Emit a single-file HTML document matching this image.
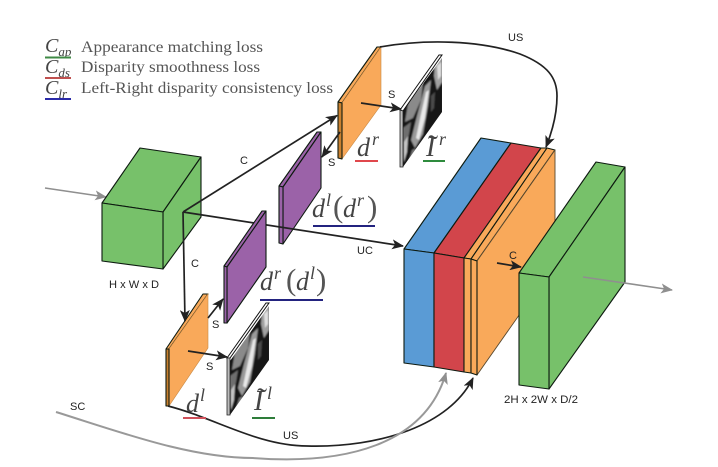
<!DOCTYPE html>
<html>
<head>
<meta charset="utf-8">
<style>
html,body{margin:0;padding:0;background:#fff;width:718px;height:467px;overflow:hidden}
svg{display:block}
.l{font-family:"Liberation Sans",sans-serif;font-size:11px;fill:#222}
.t{font-family:"Liberation Serif",serif;font-size:16px;fill:#555}
.m{font-family:"Liberation Serif",serif;font-style:italic;fill:#444}
.p{font-family:"Liberation Serif",serif;fill:#555;font-size:31px}
.f{stroke:#0d1a10;stroke-width:1.1;stroke-linejoin:round}
</style>
</head>
<body>
<svg width="718" height="467" viewBox="0 0 718 467" xmlns="http://www.w3.org/2000/svg">
<defs>
<marker id="k" markerWidth="13" markerHeight="10" refX="11" refY="5" orient="auto" markerUnits="userSpaceOnUse"><path d="M0 0L12 5L0 10L3 5Z" fill="#222"/></marker>
<marker id="g" markerWidth="13" markerHeight="10" refX="11" refY="5" orient="auto" markerUnits="userSpaceOnUse"><path d="M0 0L12 5L0 10L3 5Z" fill="#8f8f8f"/></marker>
<clipPath id="cr"><polygon points="403,111 442,58 442,112 403,167"/></clipPath>
<clipPath id="cl"><polygon points="230,361 269,306 269,360 230,415"/></clipPath>
<filter id="b" x="-10%" y="-10%" width="120%" height="120%"><feGaussianBlur stdDeviation="0.9"/></filter>
<g id="photo" filter="url(#b)">
<rect x="0" y="0" width="42" height="112" fill="#191919"/>
<polygon points="8,42 22,26 20,44 12,62 4,66" fill="#8a8a8a"/>
<polygon points="24,30 30,24 27,50 22,78 14,92 10,84 16,60" fill="#9a9a9a"/>
<polygon points="25,36 28,34 24,62 18,84 15,82 20,58" fill="#e8e8e8"/>
<polygon points="34,6 41,0 41,26 36,34 33,20" fill="#a0a0a0"/>
<polygon points="36,10 40,6 40,20 37,24" fill="#e0e0e0"/>
<polygon points="2,72 10,66 8,78 3,96 2,108" fill="#6e6e6e"/>
<polygon points="3,86 7,80 6,96 3,106" fill="#c4c4c4"/>
<polygon points="11,94 15,92 10,106 7,108" fill="#777"/>
<polygon points="30,40 34,36 33,52 30,56" fill="#4c4c4c"/>
</g>
</defs>

<!-- legend -->
<text class="m" x="45" y="52" font-size="20">C<tspan font-size="13" dy="4">ap</tspan></text>
<text class="m" x="45" y="73" font-size="20">C<tspan font-size="13" dy="4">ds</tspan></text>
<text class="m" x="45" y="94" font-size="20">C<tspan font-size="13" dy="4">lr</tspan></text>
<line x1="45" y1="57.5" x2="71" y2="57.5" stroke="#3f8a45" stroke-width="2"/>
<line x1="45" y1="78" x2="71" y2="78" stroke="#c0504f" stroke-width="2"/>
<line x1="45" y1="99" x2="71" y2="99" stroke="#2a2aa8" stroke-width="2"/>
<text class="t" x="81" y="52" textLength="182" lengthAdjust="spacingAndGlyphs">Appearance matching loss</text>
<text class="t" x="81" y="72" textLength="179" lengthAdjust="spacingAndGlyphs">Disparity smoothness loss</text>
<text class="t" x="81" y="93" textLength="252" lengthAdjust="spacingAndGlyphs">Left-Right disparity consistency loss</text>

<!-- input arrow -->
<line x1="45" y1="188" x2="106" y2="197" stroke="#8f8f8f" stroke-width="1.6" marker-end="url(#g)"/>

<!-- green cube -->
<polygon class="f" points="102,203 140,148 201,157 163,212" fill="#77c16a"/>
<polygon class="f" points="163,212 201,157 201,217 163,269" fill="#77c16a"/>
<polygon class="f" points="102,203 163,212 163,269 102,261" fill="#77c16a"/>

<!-- purple upper -->
<polygon class="f" points="279,186 317,132 321,132 283,187" fill="#9b62a8"/>
<polygon class="f" points="283,187 321,132 321,188 283,244" fill="#9b62a8"/>
<polygon class="f" points="279,186 283,187 283,244 279,243" fill="#9b62a8"/>

<!-- big stack -->
<polygon class="f" points="404,249 481,138 511,143 434,253" fill="#5a9bd5"/>
<polygon class="f" points="434,253 511,143 541,148 464,258" fill="#d2454b"/>
<polygon class="f" points="464,258 541,148 547,148 471,259" fill="#f9a95a"/>
<polygon class="f" points="471,259 547,148 555,150 477,261" fill="#f9a95a"/>
<polygon class="f" points="477,261 555,150 555,264 477,375" fill="#f9a95a" style="stroke:#5a4a30;stroke-width:.9"/>
<polygon class="f" points="404,249 434,253 434,367 404,363" fill="#5a9bd5"/>
<polygon class="f" points="434,253 464,258 464,372 434,367" fill="#d2454b"/>
<polygon class="f" points="464,258 471,259 471,373 464,372" fill="#f9a95a"/>
<polygon class="f" points="471,259 477,261 477,375 471,373" fill="#f9a95a"/>

<!-- connectors behind planes -->
<path d="M183 212L337 115.500" fill="none" stroke="#222" stroke-width="1.7" marker-end="url(#k)"/>
<path d="M183 212L403 246" fill="none" stroke="#222" stroke-width="1.7" marker-end="url(#k)"/>

<!-- purple lower -->
<polygon class="f" points="224,266 262,211 266,211 227,267" fill="#9b62a8"/>
<polygon class="f" points="227,267 266,211 266,267 227,323" fill="#9b62a8"/>
<polygon class="f" points="224,266 227,267 227,323 224,323" fill="#9b62a8"/>

<!-- orange dl -->
<polygon class="f" points="166,349 203,294 208,294 169,349" fill="#f9a95a"/>
<polygon points="169,349 208,294 208,348 169,406" fill="#f9a95a" stroke="#c98a45" stroke-width="0.6"/>
<polygon class="f" points="166,349 169,349 169,406 166,406" fill="#c9802f"/>

<!-- orange dr -->
<polygon class="f" points="338,102 377,47 381,47 342,103" fill="#f9a95a"/>
<polygon points="342,103 381,47 381,105 342,159" fill="#f9a95a" stroke="#c98a45" stroke-width="0.6"/>
<polygon class="f" points="338,102 342,103 342,159 338,158" fill="#c9802f"/>

<!-- image r -->
<g clip-path="url(#cr)"><use href="#photo" x="401" y="56"/></g>
<polygon points="400,110 439,55 442,55 403,111" fill="#fff" stroke="#111" stroke-width="1"/>
<polygon points="400,110 403,111 403,167 400,167" fill="#bbb" stroke="#222" stroke-width="0.8"/>

<!-- image l -->
<g clip-path="url(#cl)"><use href="#photo" x="228" y="304"/></g>
<polygon points="227,358 266,303 269,303 230,358" fill="#fff" stroke="#111" stroke-width="1"/>
<polygon points="227,358 230,358 230,415 227,415" fill="#bbb" stroke="#222" stroke-width="0.8"/>

<!-- green output -->
<polygon class="f" points="519,273 596,162 625,167 549,277" fill="#77c16a"/>
<polygon class="f" points="549,277 625,167 625,282 549,389" fill="#77c16a"/>
<polygon class="f" points="519,273 549,277 549,389 519,385" fill="#77c16a"/>

<!-- arrows -->
<line x1="183" y1="212" x2="185" y2="321" stroke="#222" stroke-width="1.7" marker-end="url(#k)"/>
<line x1="340" y1="132" x2="322" y2="157" stroke="#222" stroke-width="1.7" marker-end="url(#k)"/>
<line x1="208" y1="318" x2="223" y2="299" stroke="#222" stroke-width="1.7" marker-end="url(#k)"/>
<line x1="188" y1="351" x2="227" y2="357" stroke="#222" stroke-width="1.7" marker-end="url(#k)"/>
<line x1="361" y1="103" x2="401" y2="109" stroke="#222" stroke-width="1.7" marker-end="url(#k)"/>
<line x1="497" y1="263" x2="521" y2="267" stroke="#222" stroke-width="1.7" marker-end="url(#k)"/>
<path d="M380 47C425 39 480 40 520 54C548 65 557 78 557 96C557 115 552 132 546 147" fill="none" stroke="#222" stroke-width="1.7" marker-end="url(#k)"/>
<path d="M168 406C215 418 258 446 307 446C380 448 450 425 473 378" fill="none" stroke="#222" stroke-width="1.7" marker-end="url(#k)"/>
<path d="M56 412C120 432 190 458 253 458C345 465 425 445 446 373" fill="none" stroke="#999" stroke-width="2" marker-end="url(#g)"/>
<line x1="583" y1="277" x2="672" y2="290" stroke="#8f8f8f" stroke-width="1.6" marker-end="url(#g)"/>

<!-- small labels -->
<text class="l" x="240" y="164">C</text>
<text class="l" x="328" y="166">S</text>
<text class="l" x="388" y="98">S</text>
<text class="l" x="508" y="41">US</text>
<text class="l" x="357" y="254">UC</text>
<text class="l" x="191" y="267">C</text>
<text class="l" x="212" y="328">S</text>
<text class="l" x="206" y="370">S</text>
<text class="l" x="109" y="288" textLength="50" lengthAdjust="spacingAndGlyphs">H x W x D</text>
<text class="l" x="70" y="410">SC</text>
<text class="l" x="283" y="439">US</text>
<text class="l" x="509" y="259">C</text>
<text class="l" x="504" y="403" textLength="74" lengthAdjust="spacingAndGlyphs">2H x 2W x D/2</text>

<!-- math labels -->
<text class="m" x="357" y="156" font-size="26">d</text>
<text class="m" x="372" y="145" font-size="18">r</text>
<text class="m" x="426" y="156" font-size="28">I</text>
<text class="m" x="439" y="145" font-size="18">r</text>
<text class="m" x="428" y="155" font-size="30" style="font-style:normal">˜</text>

<text class="m" x="312" y="217" font-size="26">d</text>
<text class="m" x="326" y="206" font-size="18">l</text>
<text class="p" x="333" y="217">(</text>
<text class="m" x="343" y="217" font-size="26">d</text>
<text class="m" x="357" y="206" font-size="18">r</text>
<text class="p" x="367" y="217">)</text>

<text class="m" x="260" y="290" font-size="26">d</text>
<text class="m" x="274" y="279" font-size="18">r</text>
<text class="p" x="286" y="290">(</text>
<text class="m" x="296" y="290" font-size="26">d</text>
<text class="m" x="310" y="279" font-size="18">l</text>
<text class="p" x="316" y="290">)</text>

<text class="m" x="186" y="412" font-size="26">d</text>
<text class="m" x="200" y="401" font-size="18">l</text>
<text class="m" x="254" y="410" font-size="28">I</text>
<text class="m" x="267" y="399" font-size="18">l</text>
<text class="m" x="257" y="408" font-size="30" style="font-style:normal">˜</text>

<!-- underlines -->
<line x1="355" y1="161" x2="378" y2="161" stroke="#e0474c" stroke-width="2"/>
<line x1="423" y1="161" x2="445" y2="161" stroke="#2e8b3d" stroke-width="2"/>
<line x1="313" y1="226" x2="375" y2="226" stroke="#23237f" stroke-width="2"/>
<line x1="260" y1="300" x2="323" y2="300" stroke="#23237f" stroke-width="2"/>
<line x1="183" y1="418" x2="206" y2="418" stroke="#d0505a" stroke-width="2"/>
<line x1="252" y1="418" x2="275" y2="418" stroke="#2e7d3a" stroke-width="2"/>
</svg>
</body>
</html>
